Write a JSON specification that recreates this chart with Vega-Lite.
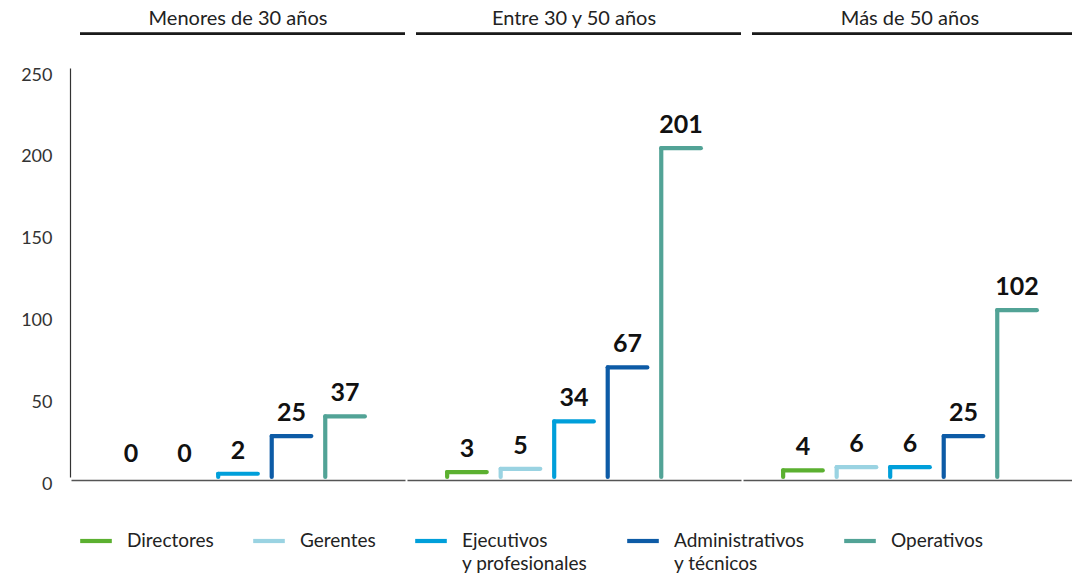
{
  "$schema": "https://vega.github.io/schema/vega-lite/v6.json",
  "background": "white",
  "padding": {"left": 20, "top": 9, "right": 0, "bottom": 5},
  "data": {"values": [
    {"grupo": "Menores de 30 años", "cargo": "Directores", "valor": 0},
    {"grupo": "Menores de 30 años", "cargo": "Gerentes", "valor": 0},
    {"grupo": "Menores de 30 años", "cargo": "Ejecutivos y profesionales", "valor": 2},
    {"grupo": "Menores de 30 años", "cargo": "Administrativos y técnicos", "valor": 25},
    {"grupo": "Menores de 30 años", "cargo": "Operativos", "valor": 37},
    {"grupo": "Entre 30 y 50 años", "cargo": "Directores", "valor": 3},
    {"grupo": "Entre 30 y 50 años", "cargo": "Gerentes", "valor": 5},
    {"grupo": "Entre 30 y 50 años", "cargo": "Ejecutivos y profesionales", "valor": 34},
    {"grupo": "Entre 30 y 50 años", "cargo": "Administrativos y técnicos", "valor": 67},
    {"grupo": "Entre 30 y 50 años", "cargo": "Operativos", "valor": 201},
    {"grupo": "Más de 50 años", "cargo": "Directores", "valor": 4},
    {"grupo": "Más de 50 años", "cargo": "Gerentes", "valor": 6},
    {"grupo": "Más de 50 años", "cargo": "Ejecutivos y profesionales", "valor": 6},
    {"grupo": "Más de 50 años", "cargo": "Administrativos y técnicos", "valor": 25},
    {"grupo": "Más de 50 años", "cargo": "Operativos", "valor": 102}
  ]},
  "facet": {
    "column": {
      "field": "grupo", "type": "nominal",
      "sort": ["Menores de 30 años", "Entre 30 y 50 años", "Más de 50 años"],
      "title": null,
      "header": {"labelFont": "Lato", "labelFontSize": 20, "labelColor": "#222222", "labelPadding": 3}
    }
  },
  "spacing": 0,
  "spec": {
    "width": 334,
    "height": 409,
    "layer": [
      {
        "mark": {"type": "rule", "color": "#1a1a1a", "strokeWidth": 2, "strokeDash": [325, 9], "strokeCap": "butt", "clip": false},
        "encoding": {"y": {"datum": 271, "type": "quantitative", "scale": {"domain": [0, 250], "nice": false}}}
      },
      {
        "transform": [{"filter": "datum.valor > 0"}],
        "mark": {"type": "rule", "strokeWidth": 4.2, "strokeCap": "round"},
        "encoding": {
          "x": {"field": "cargo", "type": "nominal", "bandPosition": 0, "sort": ["Directores", "Gerentes", "Ejecutivos y profesionales", "Administrativos y técnicos", "Operativos"]},
          "y": {"field": "valor", "type": "quantitative", "axis": {"values": [0, 50, 100, 150, 200, 250]}},
          "y2": {"datum": 0},
          "color": {"field": "cargo", "type": "nominal", "sort": ["Directores", "Gerentes", "Ejecutivos y profesionales", "Administrativos y técnicos", "Operativos"], "legend": {"labelExpr": "datum.label == 'Ejecutivos y profesionales' ? ['Ejecutivos', 'y profesionales'] : datum.label == 'Administrativos y técnicos' ? ['Administrativos', 'y técnicos'] : [datum.label, ' ']", "encode": {"labels": {"update": {"baseline": {"value": "top"}, "dy": {"value": -9}, "lineHeight": {"value": 23}}}}}}
        }
      },
      {
        "transform": [{"filter": "datum.valor > 0"}],
        "mark": {"type": "rule", "strokeWidth": 4.2, "strokeCap": "round"},
        "encoding": {
          "x": {"field": "cargo", "type": "nominal", "bandPosition": 0, "sort": ["Directores", "Gerentes", "Ejecutivos y profesionales", "Administrativos y técnicos", "Operativos"]},
          "x2": {"field": "cargo", "bandPosition": 1},
          "y": {"field": "valor", "type": "quantitative"},
          "color": {"field": "cargo", "type": "nominal", "sort": ["Directores", "Gerentes", "Ejecutivos y profesionales", "Administrativos y técnicos", "Operativos"]}
        }
      },
      {
        "mark": {"type": "text", "font": "Lato", "fontWeight": "bold", "fontSize": 25, "color": "#111111", "baseline": "alphabetic", "dy": -15},
        "encoding": {
          "x": {"field": "cargo", "type": "nominal", "bandPosition": 0.5, "sort": ["Directores", "Gerentes", "Ejecutivos y profesionales", "Administrativos y técnicos", "Operativos"]},
          "y": {"field": "valor", "type": "quantitative"},
          "text": {"field": "valor", "type": "quantitative"}
        }
      }
    ]
  },
  "config": {
    "view": {"stroke": null},
    "scale": {"bandPaddingInner": 0.26, "bandPaddingOuter": 0.75},
    "axisX": {"title": null, "labels": false, "ticks": false, "domainColor": "#555555", "domainWidth": 1.5, "grid": false},
    "axisY": {"title": null, "ticks": false, "grid": false, "domainColor": "#333333", "domainWidth": 1.2, "labelFont": "Lato", "labelFontSize": 18, "labelColor": "#333333", "labelPadding": 18, "labelOffset": 7},
    "legend": {"orient": "none", "legendX": 7, "legendY": 455, "direction": "horizontal", "title": null, "symbolType": "stroke", "symbolSize": 1000, "symbolStrokeWidth": 4.2, "labelFont": "Lato", "labelFontSize": 19, "labelColor": "#222222", "columnPadding": 30, "labelOffset": 13},
    "range": {"category": ["#5BB030", "#9AD3E2", "#009FDA", "#0D5BA6", "#52A396"]}
  }
}
